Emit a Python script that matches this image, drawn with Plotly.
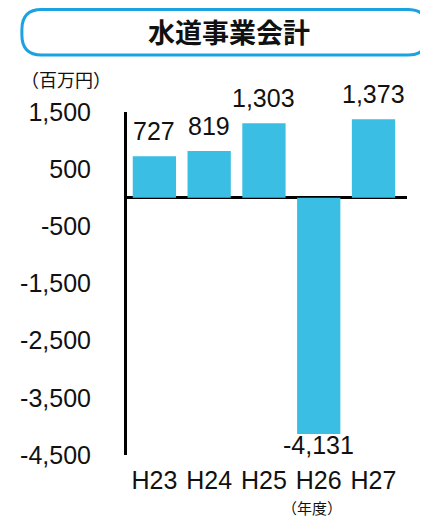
import plotly.graph_objects as go

categories = ["H23", "H24", "H25", "H26", "H27"]
values = [727, 819, 1303, -4131, 1373]
value_labels = ["727", "819", "1,303", "-4,131", "1,373"]
tick_vals = [1500, 500, -500, -1500, -2500, -3500, -4500]
tick_text = ["1,500", "500", "-500", "-1,500", "-2,500", "-3,500", "-4,500"]
title_text = "水道事業会計"
unit_text = "（百万円）"
xunit_text = "（年度）"

# page has an 8px body margin: figure placed at (8, 8)
OX, OY = 8, 8
W, H = 428 - OX, 518 - OY
L, T = 122 - OX, 112 - OY
R = W - (407 - OX)
B = H - (455 - OY)
PW, PH = W - L - R, H - T - B

def px(x):
    return (x - OX - L) / PW

def py(y):
    return (H - B - (y - OY)) / PH

NUM_FONT = "Liberation Sans, Arial, sans-serif"
CJK_FONT = "Noto Sans CJK JP, sans-serif"
BAR = "#3BBEE3"
STROKE = "#1AA3E0"
TXT = "#111111"

fig = go.Figure(go.Bar(
    x=categories, y=values, marker=dict(color=BAR, line=dict(width=0)),
    width=0.79, hoverinfo="skip"))

annos = []
for c, v, t in zip(categories, values, value_labels):
    if v >= 0:
        annos.append(dict(x=c, y=v, xref="x", yref="y", text=t, showarrow=False,
                          yanchor="bottom", yshift=9,
                          font=dict(family=NUM_FONT, size=25, color=TXT)))
    else:
        annos.append(dict(x=c, y=v, xref="x", yref="y", text=t, showarrow=False,
                          yanchor="top", yshift=5,
                          font=dict(family=NUM_FONT, size=25, color=TXT)))

annos.append(dict(x=px(226), y=py(32), xref="paper", yref="paper", text="<b>" + title_text + "</b>",
                  showarrow=False, xanchor="center", yanchor="middle",
                  font=dict(family=CJK_FONT, size=27, color=TXT)))
annos.append(dict(x=px(60), y=py(79), xref="paper", yref="paper", text=unit_text,
                  showarrow=False, xanchor="center", yanchor="middle",
                  font=dict(family=CJK_FONT, size=18, color=TXT)))
annos.append(dict(x=px(310), y=py(507), xref="paper", yref="paper", text=xunit_text,
                  showarrow=False, xanchor="center", yanchor="middle",
                  font=dict(family=CJK_FONT, size=15, color=TXT)))

# rounded title box (pixel geometry converted to paper coords)
x0, x1, y0, y1, r = 15, 428, 9.5, 55, 20
pts = [
    ("M", [(x0 + r, y0)]),
    ("L", [(x1 - r, y0)]),
    ("Q", [(x1, y0), (x1, y0 + r)]),
    ("L", [(x1, y1 - r)]),
    ("Q", [(x1, y1), (x1 - r, y1)]),
    ("L", [(x0 + r, y1)]),
    ("Q", [(x0, y1), (x0, y1 - r)]),
    ("L", [(x0, y0 + r)]),
    ("Q", [(x0, y0), (x0 + r, y0)]),
]
path = " ".join(cmd + " " + " ".join(f"{px(a):.5f},{py(b):.5f}" for a, b in p) for cmd, p in pts) + " Z"

fig.update_layout(
    width=W, height=H,
    margin=dict(l=L, r=R, t=T, b=B),
    paper_bgcolor="white", plot_bgcolor="white",
    showlegend=False,
    bargap=0.21,
    annotations=annos,
    shapes=[dict(type="path", path=path, xref="paper", yref="paper",
                 line=dict(color=STROKE, width=3), fillcolor="rgba(0,0,0,0)", layer="above")],
    xaxis=dict(showline=False, showgrid=False, zeroline=False, ticks="",
               tickfont=dict(family=NUM_FONT, size=25, color=TXT),
               ticklabelstandoff=8, fixedrange=True),
    yaxis=dict(range=[-4500, 1500], tickvals=tick_vals, ticktext=tick_text,
               showline=True, linecolor="black", linewidth=3,
               showgrid=False, zeroline=True, zerolinecolor="black", zerolinewidth=3,
               ticks="", tickfont=dict(family=NUM_FONT, size=25, color=TXT),
               ticklabelstandoff=28, fixedrange=True),
)

fig.write_html("out.html")
